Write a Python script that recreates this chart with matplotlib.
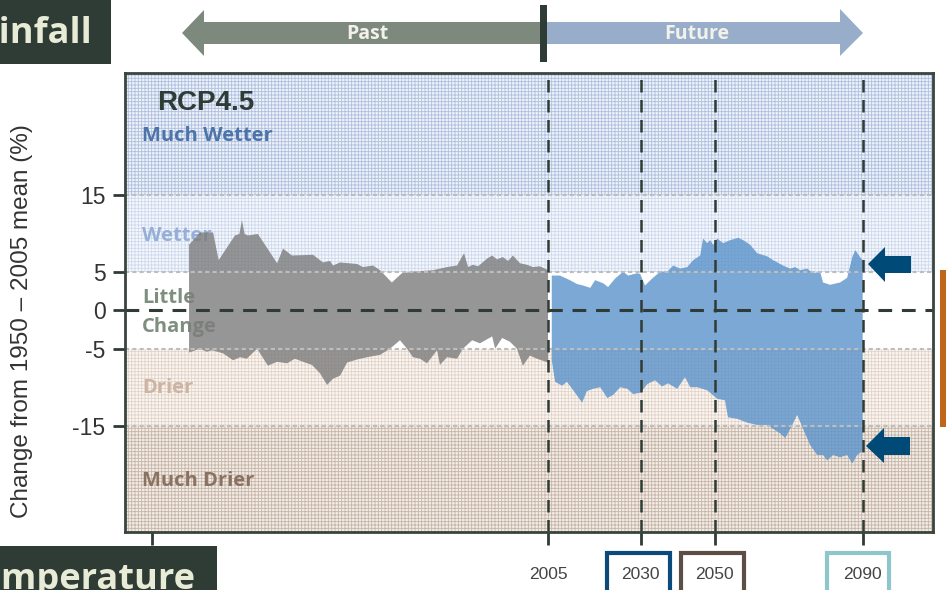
import numpy as np
import matplotlib.pyplot as plt
from matplotlib.patches import Polygon, Rectangle

plt.rcParams['font.family'] = ['Liberation Sans', 'DejaVu Sans']
plt.rcParams['hatch.linewidth'] = 0.6

# observed range (grey), upper and lower edge, % change from 1950-2005 mean
past_top_yr = [1908, 1911, 1914.5, 1916, 1920.4, 1921.6, 1922.3, 1923.0, 1923.9, 1926.6,
               1931.8, 1933.4, 1935.8, 1941.5, 1944.2, 1946.1, 1946.9, 1948.8, 1953.4, 1955,
               1957.7, 1959.6, 1962.8, 1965.5, 1968.5, 1973.9, 1977.7, 1980.4, 1982.3, 1983.4,
               1984.7, 1986.1, 1988.5, 1989.9, 1991.2, 1992.8, 1994.2, 1995.5, 1997.4, 1999.3,
               2000.9, 2002.8, 2005]
past_top = [8.5, 10.1, 10.1, 6.5, 9.7, 9.9, 11.7, 9.9, 9.7, 9.9,
            6.1, 8.0, 7.1, 7.2, 6.2, 6.4, 5.8, 6.2, 6.0, 5.6,
            5.8, 5.2, 3.6, 4.8, 5.0, 5.2, 5.6, 5.8, 7.4, 5.6,
            5.9, 5.7, 6.7, 7.1, 6.6, 6.9, 6.4, 7.1, 6.1, 5.9,
            5.6, 5.7, 5.2]
past_bot_yr = [1908, 1910.9, 1912.8, 1914.2, 1917.2, 1919.9, 1921.8, 1923.6, 1926.4, 1929.3,
               1931.8, 1934.5, 1936.6, 1938.8, 1941.2, 1943.4, 1945.3, 1946.9, 1948.8, 1950.7,
               1953.4, 1956.1, 1959.6, 1962.3, 1965, 1966.9, 1968.5, 1970.4, 1972.3, 1975,
               1975.8, 1977.7, 1980.4, 1982, 1984.5, 1986.6, 1989.9, 1990.7, 1992.6, 1994.7,
               1996.6, 1998.2, 2000.1, 2002, 2005]
past_bot = [-5.5, -5.0, -5.4, -5.2, -5.6, -6.5, -6.1, -6.3, -5.0, -7.2,
            -6.7, -6.9, -6.3, -6.7, -7.1, -8.2, -9.7, -8.9, -8.5, -6.8,
            -6.4, -6.1, -5.8, -5.0, -3.9, -5.0, -6.1, -6.3, -6.9, -5.2,
            -7.1, -6.1, -6.3, -5.0, -3.9, -4.3, -3.4, -5.0, -3.6, -4.1,
            -5.0, -7.2, -5.9, -6.3, -6.8]

# projected range RCP4.5 (blue)
fut_top_yr = [2006, 2008.2, 2010.9, 2012.8, 2014.5, 2016.4, 2017.7, 2019.9, 2021.2, 2023.1,
              2025.3, 2026.6, 2029.1, 2029.9, 2031.2, 2033.1, 2035.3, 2037.2, 2038.8, 2040.7,
              2042.6, 2044.2, 2046.1, 2046.9, 2048, 2048.8, 2049.6, 2050.7, 2052.3, 2054.2,
              2056.4, 2057.7, 2059.6, 2061.5, 2064.2, 2065.8, 2068.5, 2070.4, 2071.8, 2073.1,
              2075, 2076.6, 2078.5, 2079.3, 2081.2, 2083.9, 2085.8, 2087.2, 2088, 2089.3, 2090]
fut_top = [4.5, 4.5, 3.9, 3.4, 3.2, 2.9, 3.9, 3.5, 3.0, 4.1,
           5.0, 4.5, 4.8, 4.7, 3.2, 4.1, 5.0, 5.0, 5.8, 5.4,
           5.6, 6.5, 7.1, 9.3, 8.7, 9.1, 8.5, 9.3, 8.7, 9.1,
           9.4, 9.1, 8.5, 7.4, 7.0, 6.5, 5.8, 5.4, 5.6, 5.2,
           5.4, 4.8, 5.0, 3.6, 3.3, 3.6, 4.2, 6.9, 7.8, 6.9, 6.5]
fut_bot_yr = [2006, 2006.9, 2008.8, 2010.1, 2011.8, 2014.2, 2015.5, 2017.2, 2019.1, 2021,
              2022.6, 2024.5, 2026.4, 2028, 2030, 2031.8, 2033.9, 2035.8, 2037.4, 2039.9,
              2042, 2043.4, 2045.3, 2048, 2050.7, 2052.8, 2053.6, 2056.1, 2058.8, 2061.5,
              2064.2, 2065.8, 2067.7, 2069.1, 2071, 2072.3, 2073.9, 2075.8, 2077.7, 2079.3,
              2080.4, 2082, 2083.9, 2085.8, 2087.2, 2088.5, 2090]
fut_bot = [-6.5, -9.3, -9.8, -9.3, -10.4, -12.0, -10.5, -10.2, -10.0, -11.4,
           -11.0, -10.0, -10.2, -10.9, -10.7, -9.6, -9.1, -9.9, -9.5, -10.2,
           -8.7, -10.0, -10.0, -10.4, -11.5, -11.7, -13.9, -14.1, -14.6, -14.9,
           -14.9, -15.4, -16.0, -16.6, -14.9, -13.6, -15.4, -17.5, -18.8, -18.8,
           -19.5, -18.8, -19.1, -18.8, -19.9, -18.8, -18.3]

thresholds = [15, 5, -5, -15]
key_years = [2005, 2030, 2050, 2090]
xticks = [1898, 2005, 2030, 2050, 2090]
xticklabels = ['', '2005', '2030', '2050', '2090']
yticks = [15, 5, 0, -5, -15]
yticklabels = ['15', '5', '0', '-5', '-15']

band_lo = [15, 5, -15, -40]
band_hi = [40, 15, -5, -15]
band_face = ['#eef2f9', '#f6f8fc', '#faf6f3', '#f3ede8']
band_hatch = ['#aebfe0', '#cdd9ee', '#e2d3c8', '#c6b4a6']

W, H = 946, 590
def fx(x):
  return x / W
def fy(y):
  return 1 - y / H

fig = plt.figure(figsize=(9.46, 5.9), dpi=100)
ax = fig.add_axes([fx(125), fy(532), fx(933) - fx(125), fy(73) - fy(532)])
ax.set_xlim(1890.7, 2109)
ax.set_ylim(-28.8, 30.8)

# climate bands: light base with a fine grid texture
for lo, hi, fc, hc in zip(band_lo, band_hi, band_face, band_hatch):
  ax.axhspan(lo, hi, facecolor=fc, edgecolor='none', zorder=0)
  ax.axhspan(lo, hi, facecolor='none', edgecolor=hc, hatch='+++++', linewidth=0, zorder=0.5)

# band names
lab_x = 1895.3
lab_kw = dict(family='Open Sans', weight='bold', fontsize=14.5, va='center', zorder=1)
ax.text(lab_x, 22.6, 'Much Wetter', color='#4c74a8', **lab_kw)
ax.text(lab_x, 9.6, 'Wetter', color='#97afd6', **lab_kw)
ax.text(lab_x, 1.6, 'Little', color='#7f8f7f', **lab_kw)
ax.text(lab_x, -2.2, 'Change', color='#7f8f7f', **lab_kw)
ax.text(lab_x, -10.1, 'Drier', color='#ccb3a2', **lab_kw)
ax.text(lab_x, -22.2, 'Much Drier', color='#8a7262', **lab_kw)
ax.text(1899.3, 26.9, 'RCP4.5', weight='bold', fontsize=20, color='#2f3b35',
        va='center', zorder=4)

# ranges (see-through so the texture shows)
ax.fill(np.r_[past_top_yr, past_bot_yr[::-1]], np.r_[past_top, past_bot[::-1]],
        color='#7c7c7c', alpha=0.8, linewidth=0, zorder=2)
ax.fill(np.r_[fut_top_yr, fut_bot_yr[::-1]], np.r_[fut_top, fut_bot[::-1]],
        color='#5a92ca', alpha=0.8, linewidth=0, zorder=2)

for t in thresholds:
  ax.axhline(t, color='#bdbdbd', linewidth=1.5, linestyle=(0, (2, 1.5)), zorder=4)
ax.axhline(0, color='#2f3b35', linewidth=2.2, linestyle=(0, (4.5, 3.2)), zorder=5)
for yr in key_years:
  ax.axvline(yr, color='#2f3b35', linewidth=1.8, linestyle=(0, (5, 3)), zorder=5)

ax.set_xticks(xticks)
ax.set_xticklabels(xticklabels)
ax.set_yticks(yticks)
ax.set_yticklabels(yticklabels)
ax.tick_params(axis='y', direction='out', length=9, width=2, color='#2f3b35',
               labelsize=16.5, labelcolor='#333333', pad=5)
ax.tick_params(axis='x', direction='out', length=9, width=2, color='#2f3b35',
               labelsize=12.5, labelcolor='#444444', pad=16)
for s in ax.spines.values():
  s.set_color('#3a4540')
  s.set_linewidth(2)
  s.set_zorder(6)

fig.text(fx(22), fy(321), 'Change from 1950 \u2013 2005 mean (%)', rotation=90,
         fontsize=17.5, color='#333333', ha='center', va='center')

# title boxes (cut by the picture edge, as in the slide)
fig.add_artist(Rectangle((fx(0), fy(64)), fx(111), fy(0) - fy(64), transform=fig.transFigure,
                         facecolor='#2f3b35', edgecolor='none'))
fig.text(fx(92), fy(43), 'Rainfall', family='Open Sans', weight='bold', fontsize=26,
         color='#e8ebd5', ha='right', va='baseline')
fig.add_artist(Rectangle((fx(0), fy(600)), fx(217), fy(546) - fy(600), transform=fig.transFigure,
                         facecolor='#2f3b35', edgecolor='none'))
fig.text(fx(195), fy(589), 'Temperature', family='Open Sans', weight='bold', fontsize=26,
         color='#e8ebd5', ha='right', va='baseline')

# past / future arrows
past_pts = [(182, 33), (204, 10), (204, 22), (540, 22), (540, 44), (204, 44), (204, 56)]
fut_pts = [(547, 22), (840, 22), (840, 9), (863, 33), (840, 56), (840, 44), (547, 44)]
fig.add_artist(Polygon([(fx(a), fy(b)) for a, b in past_pts], closed=True,
                       transform=fig.transFigure, facecolor='#7e897e', edgecolor='none'))
fig.add_artist(Polygon([(fx(a), fy(b)) for a, b in fut_pts], closed=True,
                       transform=fig.transFigure, facecolor='#97adc9', edgecolor='none'))
fig.add_artist(Rectangle((fx(540), fy(62)), fx(7), fy(5) - fy(62), transform=fig.transFigure,
                         facecolor='#2f3b35', edgecolor='none'))
fig.text(fx(367), fy(34), 'Past', family='Open Sans', weight='bold', fontsize=14,
         color='#f2f2ea', ha='center', va='center')
fig.text(fx(697), fy(34), 'Future', family='Open Sans', weight='bold', fontsize=14,
         color='#f2f2ea', ha='center', va='center')

# right-hand markers
up_pts = [(868, 264), (885, 247), (885, 256), (911, 256), (911, 273), (885, 273), (885, 282)]
lo_pts = [(866, 446), (884, 428), (884, 437), (910, 437), (910, 455), (884, 455), (884, 463)]
for pts in (up_pts, lo_pts):
  fig.add_artist(Polygon([(fx(a), fy(b)) for a, b in pts], closed=True,
                         transform=fig.transFigure, facecolor='#004a78', edgecolor='none'))
fig.add_artist(Rectangle((fx(940), fy(427)), fx(8), fy(270) - fy(427), transform=fig.transFigure,
                         facecolor='#c0661a', edgecolor='none'))

# boxes around the key years
for x0, x1, c in [(607, 670, '#0b4a7a'), (681, 744, '#5c4e45'), (827, 889, '#8ec6cc')]:
  fig.add_artist(Rectangle((fx(x0), fy(600)), fx(x1 - x0), fy(553) - fy(600),
                           transform=fig.transFigure, facecolor='none', edgecolor=c,
                           linewidth=3))

fig.savefig('out.png', dpi=100)
